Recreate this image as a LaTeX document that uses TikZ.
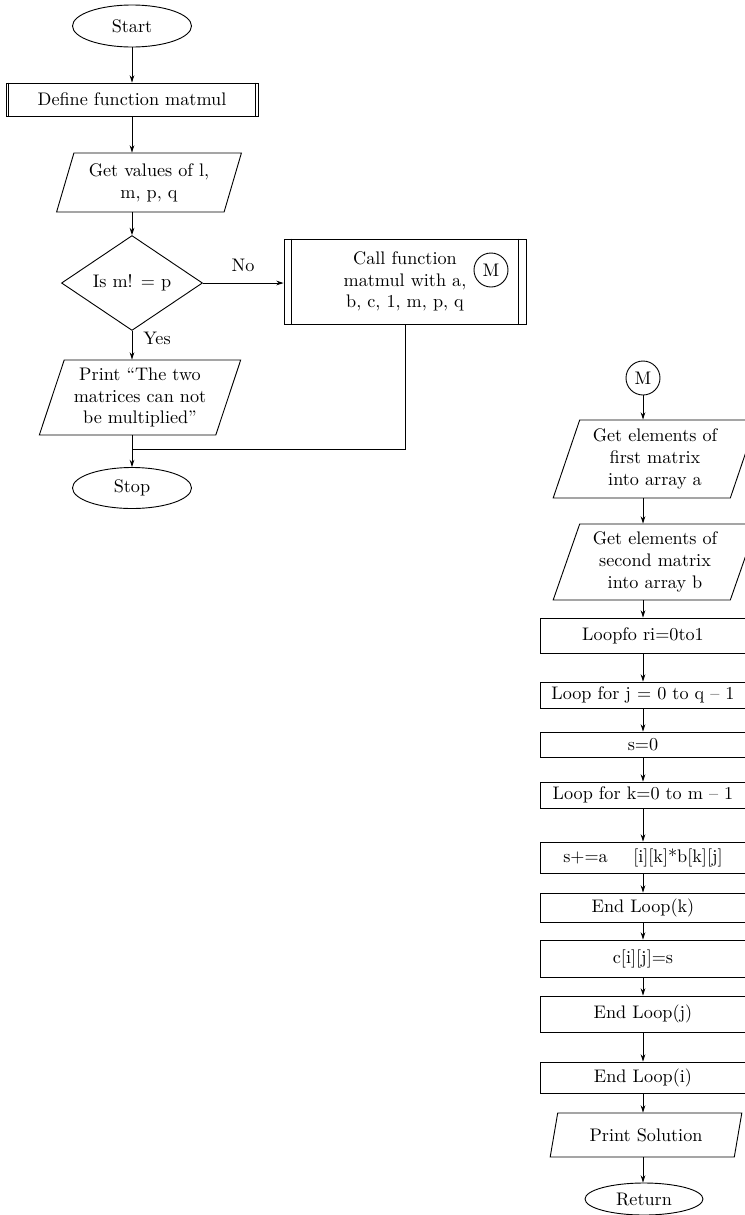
\documentclass[tikz,border=0pt]{standalone}
\usetikzlibrary{shapes.geometric,arrows.meta}
\newcommand{\pxl}{0.55pt}
\begin{document}
\begin{tikzpicture}[x=\pxl, y=-\pxl, line width=0.5pt,
		sz/.style 2 args={minimum width=#1*\pxl, minimum height=#2*\pxl},
		term/.style={ellipse, draw, inner sep=0pt},
		proc/.style={rectangle, draw, inner sep=0pt, align=center},
		io/.style={trapezium, trapezium left angle=70, trapezium right angle=110, trapezium stretches=true, draw, inner sep=0pt, align=center},
		decide/.style={diamond, draw, inner sep=0pt},
		conn/.style={circle, draw, inner sep=0pt},
		flow/.style={-{Stealth[length=4pt,width=2.6pt]}}]
				\useasboundingbox (0,0) rectangle (745,1215);

				\node[term, sz={119}{42}] (start) at (132,26) {Start};
				\node[proc, sz={252}{33}] (define) at (132,99.5) {Define function matmul};
				\node[io, sz={186}{59}] (getlmpq) at (149,182.5) {Get values of l,\\ m, p, q};
				\node[decide, sz={141}{72}] (ism) at (132,283) {Is m! = p};
				\node[proc, sz={242}{85}] (callfn) at (405,281.5) {Call function\\ matmul with a,\\ b, c, 1, m, p, q};
				\node[conn, sz={34}{34}] (mcall) at (491,270) {M};
				\node[io, sz={202}{75}] (printmsg) at (140,397.5) {Print ``The two\\ matrices can not\\ be multiplied''};
				\node[term, sz={119}{41}] (stop) at (132,488) {Stop};
				\coordinate (join) at (132,449);
				\node (no) at (243,265) {No};
				\node (yes) at (157,338) {Yes};

				\node[conn, sz={34}{34}] (mret) at (643,378) {M};
				\node[io, sz={204}{78}] (geta) at (655,459) {Get elements of\\ first matrix\\ into array a};
				\node[io, sz={204}{76}] (getb) at (655,562) {Get elements of\\ second matrix\\ into array b};
				\node[proc, sz={206}{35}] (loopi) at (643,635.5) {Loopfo ri=0to1};
				\node[proc, sz={206}{26}] (loopj) at (643,695) {Loop for j = 0 to q -- 1};
				\node[proc, sz={206}{25}] (szero) at (643,744.5) {s=0};
				\node[proc, sz={206}{26}] (loopk) at (643,795) {Loop for k=0 to m -- 1};
				\node[proc, sz={206}{31}] (sacc) at (643,857.5) {s+=a\hspace{1.4em}[i][k]*b[k][j]};
				\node[proc, sz={206}{29}] (endk) at (643,907.5) {End Loop(k)};
				\node[proc, sz={206}{37}] (cij) at (643,958.5) {c[i][j]=s};
				\node[proc, sz={206}{36}] (endj) at (643,1014) {End Loop(j)};
				\node[proc, sz={206}{31}] (endi) at (643,1077.5) {End Loop(i)};
				\node[io, sz={192}{44}] (prsol) at (646,1135) {Print Solution};
				\node[term, sz={118}{32}] (ret) at (644,1199) {Return};

				\foreach \nd/\d in {define/3.3, callfn/8}{
						\draw ([xshift=\d*\pxl]\nd.north west) -- ([xshift=\d*\pxl]\nd.south west);
						\draw ([xshift=-\d*\pxl]\nd.north east) -- ([xshift=-\d*\pxl]\nd.south east);
					}

				\draw[flow] (start) -- (define);
				\draw[flow] (define) -- (define |- getlmpq.north);
				\draw[flow] (ism |- getlmpq.south) -- (ism);
				\draw[flow] (ism.east) -- (ism.east -| callfn.west);
				\draw[flow] (ism) -- (ism |- printmsg.north);
				\draw (callfn.south) |- (join);
				\draw[flow] (stop |- printmsg.south) -- (stop);

				\draw[flow] (mret) -- (mret |- geta.north);
				\foreach \src/\dst in {geta/getb, getb/loopi, loopi/loopj, loopj/szero, szero/loopk, loopk/sacc, sacc/endk, endk/cij, cij/endj, endj/endi, endi/prsol, prsol/ret}{
						\draw[flow] (mret |- \src.south) -- (mret |- \dst.north);
					}
			\end{tikzpicture}
\end{document}
